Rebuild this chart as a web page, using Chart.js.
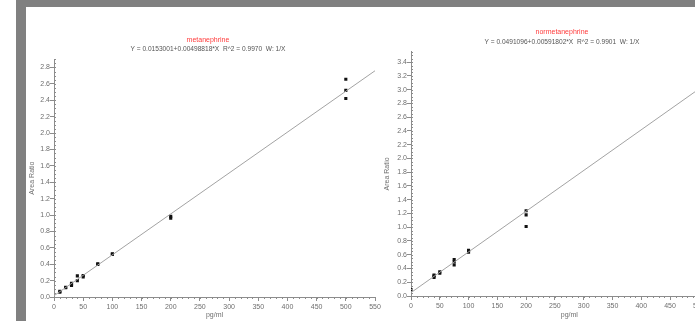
<!DOCTYPE html>
<html>
<head>
<meta charset="utf-8">
<script src="https://cdn.jsdelivr.net/npm/chart.js@4.4.1/dist/chart.umd.min.js"></script>
<style>
  html, body { margin: 0; padding: 0; background: #fff; overflow: hidden; width: 695px; height: 321px; position: relative; }
  .frame-top { position: absolute; left: 16px; top: 0; width: 679px; height: 7px; background: #808080; }
  .frame-left { position: absolute; left: 16px; top: 0; width: 10px; height: 321px; background: #808080; }
  canvas { position: absolute; top: 0; }
  #met { left: 0; }
  #normet { left: 381px; }
</style>
</head>
<body>
<div class="frame-top"></div>
<div class="frame-left"></div>
<canvas id="met" width="385" height="321"></canvas>
<canvas id="normet" width="360" height="321"></canvas>
<script>
// metanephrine calibration standards (pg/ml) and measured area ratios
const metConc  = [10, 10, 20, 20, 30, 30, 30, 40, 40, 50, 50, 75, 75, 100, 100, 200, 200, 500, 500, 500];
const metRatio = [0.060, 0.068, 0.112, 0.118, 0.140, 0.152, 0.168, 0.200, 0.258, 0.245, 0.262, 0.398, 0.405, 0.520, 0.528, 0.962, 0.985, 2.42, 2.52, 2.655];
const metIntercept = 0.0153001;
const metSlope = 0.00498818;
const metR2 = '0.9970';

// normetanephrine calibration standards (pg/ml) and measured area ratios
const normConc  = [0, 40, 40, 40, 50, 50, 75, 75, 75, 100, 100, 200, 200, 200];
const normRatio = [0.095, 0.27, 0.29, 0.305, 0.33, 0.35, 0.45, 0.495, 0.53, 0.635, 0.665, 1.01, 1.18, 1.24];
const normIntercept = 0.0491096;
const normSlope = 0.00591802;
const normR2 = '0.9901';

// axis tick values
const concTicks = [0, 50, 100, 150, 200, 250, 300, 350, 400, 450, 500, 550];
const metRatioTicks = [0.0, 0.2, 0.4, 0.6, 0.8, 1.0, 1.2, 1.4, 1.6, 1.8, 2.0, 2.2, 2.4, 2.6, 2.8];
const normRatioTicks = [0.0, 0.2, 0.4, 0.6, 0.8, 1.0, 1.2, 1.4, 1.6, 1.8, 2.0, 2.2, 2.4, 2.6, 2.8, 3.0, 3.2, 3.4];

const AXIS = '#8c8c8c';
const TEXT = '#6e6e6e';
const FONT = { family: '"Liberation Sans", Arial, sans-serif', size: 7 };

const equation = (b, m, r2) => `Y = ${b}+${m}*X  R^2 = ${r2}  W: 1/X`;

// short unlabeled ticks between the labeled ones
const minorTicks = {
  id: 'minorTicks',
  afterDraw(chart, args, opts) {
    const { ctx } = chart;
    const xs = chart.scales.x, ys = chart.scales.y;
    ctx.save();
    ctx.strokeStyle = AXIS;
    ctx.lineWidth = 1;
    ctx.beginPath();
    for (let v = xs.min; v <= xs.max + 1e-9; v += opts.xStep) {
      const p = Math.round(xs.getPixelForValue(v)) + 0.5;
      ctx.moveTo(p, xs.top);
      ctx.lineTo(p, xs.top + 2);
    }
    for (let v = ys.min; v <= ys.max + 1e-9; v += opts.yStep) {
      const p = Math.round(ys.getPixelForValue(v)) + 0.5;
      ctx.moveTo(ys.right, p);
      ctx.lineTo(ys.right + 2, p);
    }
    ctx.stroke();
    ctx.restore();
  }
};

// compound name and regression equation above each plot
const caption = {
  id: 'caption',
  afterDraw(chart, args, o) {
    const { ctx } = chart;
    ctx.save();
    ctx.textAlign = 'center';
    ctx.textBaseline = 'middle';
    ctx.font = `${FONT.size}px ${FONT.family}`;
    ctx.fillStyle = '#ff3b3b';
    ctx.fillText(o.name, o.x, o.nameY);
    ctx.font = `6.6px ${FONT.family}`;
    ctx.fillStyle = '#555';
    ctx.fillText(o.equation, o.x, o.eqY);
    ctx.restore();
  }
};

function makeChart(id, cfg) {
  const points = cfg.conc.map((c, i) => ({ x: c, y: cfg.ratio[i] }));
  const fit = [
    { x: 0, y: cfg.intercept },
    { x: 550, y: cfg.intercept + cfg.slope * 550 }
  ];
  return new Chart(document.getElementById(id), {
    type: 'scatter',
    data: {
      datasets: [
        {
          type: 'line',
          data: fit,
          borderColor: '#a3a3a3',
          borderWidth: 1,
          pointRadius: 0,
          fill: false
        },
        {
          data: points,
          pointStyle: 'rect',
          pointRadius: 2.2,
          pointBorderWidth: 0,
          backgroundColor: '#111'
        }
      ]
    },
    options: {
      responsive: false,
      animation: false,
      events: [],
      layout: { padding: cfg.padding },
      plugins: {
        legend: { display: false },
        tooltip: { enabled: false },
        minorTicks: { xStep: 10, yStep: 0.05 },
        caption: cfg.caption
      },
      scales: {
        x: {
          type: 'linear',
          min: 0,
          max: 550,
          afterBuildTicks: s => { s.ticks = concTicks.map(v => ({ value: v })); },
          afterFit: s => { s.height = cfg.xHeight; },
          border: { color: AXIS, width: 1 },
          grid: { drawOnChartArea: false, tickLength: 4, tickColor: AXIS },
          ticks: { padding: 1.5, color: TEXT, font: FONT, maxRotation: 0, autoSkip: false },
          title: { display: true, text: 'pg/ml', color: TEXT, font: FONT, padding: { top: 0, bottom: 1.8 } }
        },
        y: {
          type: 'linear',
          min: 0,
          max: cfg.yMax,
          afterBuildTicks: s => { s.ticks = cfg.yTicks.map(v => ({ value: v })); },
          afterFit: s => { s.width = cfg.yWidth; },
          border: { color: AXIS, width: 1 },
          grid: { drawOnChartArea: false, tickLength: 4, tickColor: AXIS },
          ticks: { padding: 0, color: TEXT, font: FONT, callback: v => Number(v).toFixed(1) },
          title: { display: true, text: 'Area Ratio', color: TEXT, font: FONT, padding: { top: cfg.yTitlePad, bottom: 0 } }
        }
      }
    },
    plugins: [minorTicks, caption]
  });
}

makeChart('met', {
  conc: metConc, ratio: metRatio,
  intercept: metIntercept, slope: metSlope,
  yMax: 2.9, yTicks: metRatioTicks,
  padding: { left: 26, top: 59.2, right: 10, bottom: 0 },
  xHeight: 24, yWidth: 28, yTitlePad: 1.8,
  caption: { name: 'metanephrine', equation: equation(metIntercept, metSlope, metR2), x: 208, nameY: 40, eqY: 49 }
});

makeChart('normet', {
  conc: normConc, ratio: normRatio,
  intercept: normIntercept, slope: normSlope,
  yMax: 3.55, yTicks: normRatioTicks,
  padding: { left: 0, top: 51.8, right: 13.4, bottom: 0 },
  xHeight: 25, yWidth: 30, yTitlePad: 1.5,
  caption: { name: 'normetanephrine', equation: equation(normIntercept, normSlope, normR2), x: 181, nameY: 32, eqY: 42 }
});
</script>
</body>
</html>
